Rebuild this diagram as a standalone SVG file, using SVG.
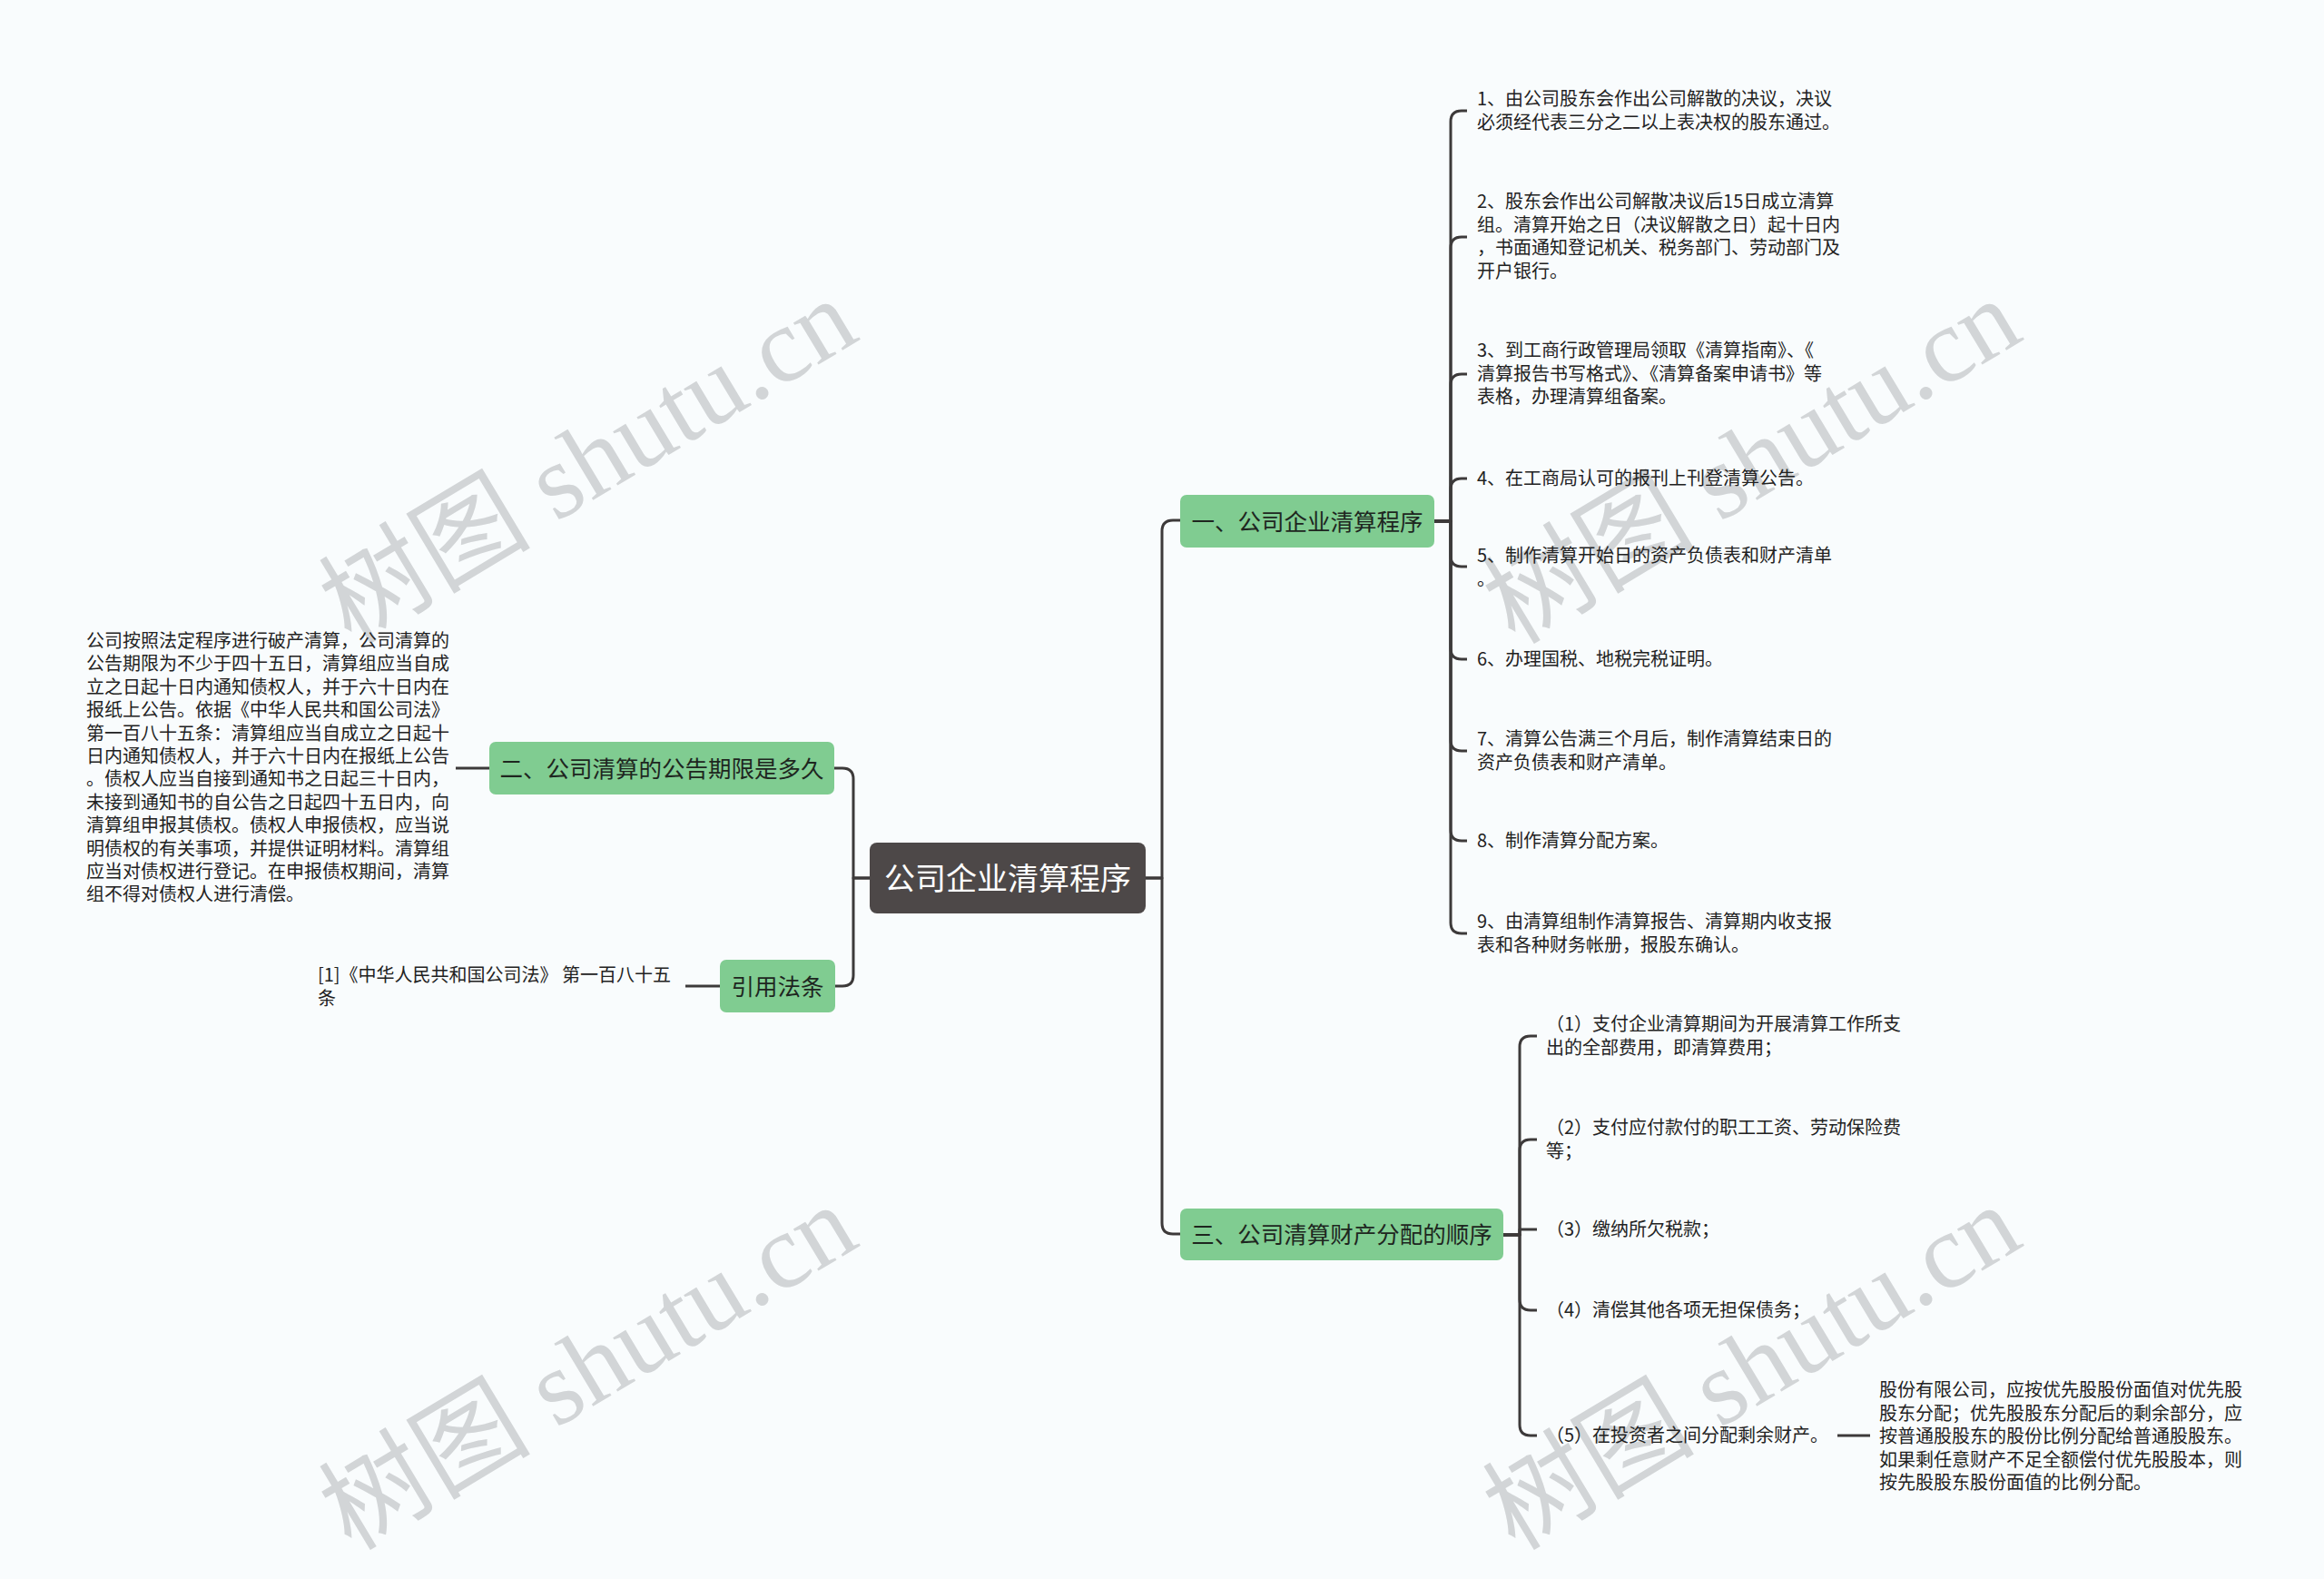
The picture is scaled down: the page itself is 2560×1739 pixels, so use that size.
<svg xmlns="http://www.w3.org/2000/svg" width="2560" height="1739" viewBox="0 0 2560 1739">
<style>
.bg{fill:#f9fcfd}
.lk{fill:none;stroke:#3d3a3a;stroke-width:3;stroke-linecap:butt;stroke-linejoin:round}
.root rect{fill:#4d4848}
.root text{fill:#ffffff;font-size:34px;text-anchor:middle}
.main rect{fill:#80cc91}
.main text{fill:#1e261f;font-size:25.5px;text-anchor:middle}
.leaf text{fill:#222222;font-size:20px}
text{font-family:"Noto Sans CJK SC","Noto Sans",sans-serif}
.wm{fill:#d2d5d7;font-size:117px;text-anchor:middle}
.wm .lat{font-family:"Liberation Serif","DejaVu Serif",serif}
</style>
<rect class="bg" x="0" y="0" width="2560" height="1739"/>

<g id="watermarks" class="wm">
  <text transform="translate(668,542) rotate(-31)">树图<tspan class="lat"> shutu.cn</tspan></text>
  <text transform="translate(1950,542) rotate(-31)">树图<tspan class="lat"> shutu.cn</tspan></text>
  <text transform="translate(668,1540) rotate(-31)">树图<tspan class="lat"> shutu.cn</tspan></text>
  <text transform="translate(1950,1540) rotate(-31)">树图<tspan class="lat"> shutu.cn</tspan></text>
</g>

<g id="connectors">
  <path class="lk" d="M1262,967 H1280 V585 Q1280,573 1292,573 H1300"/>
  <path class="lk" d="M1262,967 H1280 V1347 Q1280,1359 1292,1359 H1300"/>
  <path class="lk" d="M958,967 H940 V858 Q940,846 928,846 H919"/>
  <path class="lk" d="M958,967 H940 V1074 Q940,1086 928,1086 H919"/>
  <path class="lk" d="M539,846 H502"/>
  <path class="lk" d="M793,1086 H755"/>
  <path class="lk" d="M1580,574 H1598 V134 Q1598,122 1610,122 H1616"/>
  <path class="lk" d="M1580,574 H1598 V273 Q1598,261 1610,261 H1616"/>
  <path class="lk" d="M1580,574 H1598 V424 Q1598,412 1610,412 H1616"/>
  <path class="lk" d="M1580,574 H1598 V539 Q1598,527 1610,527 H1616"/>
  <path class="lk" d="M1580,574 H1598 V612 Q1598,624 1610,624 H1616"/>
  <path class="lk" d="M1580,574 H1598 V714 Q1598,726 1610,726 H1616"/>
  <path class="lk" d="M1580,574 H1598 V815 Q1598,827 1610,827 H1616"/>
  <path class="lk" d="M1580,574 H1598 V914 Q1598,926 1610,926 H1616"/>
  <path class="lk" d="M1580,574 H1598 V1016 Q1598,1028 1610,1028 H1616"/>
  <path class="lk" d="M1656,1360 H1674 V1153 Q1674,1141 1686,1141 H1693"/>
  <path class="lk" d="M1656,1360 H1674 V1267 Q1674,1255 1686,1255 H1693"/>
  <path class="lk" d="M1656,1360 H1674 V1354 H1693"/>
  <path class="lk" d="M1656,1360 H1674 V1431 Q1674,1443 1686,1443 H1693"/>
  <path class="lk" d="M1656,1360 H1674 V1569 Q1674,1581 1686,1581 H1693"/>
  <path class="lk" d="M2024,1581 H2060"/>
</g>

<g id="root" class="root">
  <rect x="958" y="928" width="304" height="78" rx="8"/>
  <text x="1110" y="980">公司企业清算程序</text>
</g>

<g id="n1" class="main">
  <rect x="1300" y="545" width="280" height="58" rx="7"/>
  <text x="1440" y="584">一、公司企业清算程序</text>
</g>
<g id="n2" class="main">
  <rect x="539" y="817" width="380" height="58" rx="7"/>
  <text x="729" y="856">二、公司清算的公告期限是多久</text>
</g>
<g id="n4" class="main">
  <rect x="793" y="1057" width="127" height="58" rx="7"/>
  <text x="856.5" y="1096">引用法条</text>
</g>
<g id="n3" class="main">
  <rect x="1300" y="1331" width="356" height="57" rx="7"/>
  <text x="1478" y="1369">三、公司清算财产分配的顺序</text>
</g>

<g id="n1-1" class="leaf"><text x="1627" y="116">1、由公司股东会作出公司解散的决议，决议<tspan x="1627" dy="25.5">必须经代表三分之二以上表决权的股东通过。</tspan></text></g>
<g id="n1-2" class="leaf"><text x="1627" y="229">2、股东会作出公司解散决议后15日成立清算<tspan x="1627" dy="25.5">组。清算开始之日（决议解散之日）起十日内</tspan><tspan x="1627" dy="25.5">，书面通知登记机关、税务部门、劳动部门及</tspan><tspan x="1627" dy="25.5">开户银行。</tspan></text></g>
<g id="n1-3" class="leaf"><text x="1627" y="393">3、到工商行政管理局领取《清算指南》、《<tspan x="1627" dy="25.5">清算报告书写格式》、《清算备案申请书》等</tspan><tspan x="1627" dy="25.5">表格，办理清算组备案。</tspan></text></g>
<g id="n1-4" class="leaf"><text x="1627" y="534">4、在工商局认可的报刊上刊登清算公告。</text></g>
<g id="n1-5" class="leaf"><text x="1627" y="619">5、制作清算开始日的资产负债表和财产清单<tspan x="1627" dy="25.5">。</tspan></text></g>
<g id="n1-6" class="leaf"><text x="1627" y="733">6、办理国税、地税完税证明。</text></g>
<g id="n1-7" class="leaf"><text x="1627" y="821">7、清算公告满三个月后，制作清算结束日的<tspan x="1627" dy="25.5">资产负债表和财产清单。</tspan></text></g>
<g id="n1-8" class="leaf"><text x="1627" y="933">8、制作清算分配方案。</text></g>
<g id="n1-9" class="leaf"><text x="1627" y="1022">9、由清算组制作清算报告、清算期内收支报<tspan x="1627" dy="25.5">表和各种财务帐册，报股东确认。</tspan></text></g>

<g id="n2-1" class="leaf"><text x="95" y="713">公司按照法定程序进行破产清算，公司清算的<tspan x="95" dy="25.4">公告期限为不少于四十五日，清算组应当自成</tspan><tspan x="95" dy="25.4">立之日起十日内通知债权人，并于六十日内在</tspan><tspan x="95" dy="25.4">报纸上公告。依据《中华人民共和国公司法》</tspan><tspan x="95" dy="25.4">第一百八十五条：清算组应当自成立之日起十</tspan><tspan x="95" dy="25.4">日内通知债权人，并于六十日内在报纸上公告</tspan><tspan x="95" dy="25.4">。债权人应当自接到通知书之日起三十日内，</tspan><tspan x="95" dy="25.4">未接到通知书的自公告之日起四十五日内，向</tspan><tspan x="95" dy="25.4">清算组申报其债权。债权人申报债权，应当说</tspan><tspan x="95" dy="25.4">明债权的有关事项，并提供证明材料。清算组</tspan><tspan x="95" dy="25.4">应当对债权进行登记。在申报债权期间，清算</tspan><tspan x="95" dy="25.4">组不得对债权人进行清偿。</tspan></text></g>

<g id="n4-1" class="leaf"><text x="350" y="1081">[1]《中华人民共和国公司法》 第一百八十五<tspan x="350" dy="25.5">条</tspan></text></g>

<g id="n3-1" class="leaf"><text x="1703" y="1135">（1）支付企业清算期间为开展清算工作所支<tspan x="1703" dy="25.5">出的全部费用，即清算费用；</tspan></text></g>
<g id="n3-2" class="leaf"><text x="1703" y="1249">（2）支付应付款付的职工工资、劳动保险费<tspan x="1703" dy="25.5">等；</tspan></text></g>
<g id="n3-3" class="leaf"><text x="1703" y="1361">（3）缴纳所欠税款；</text></g>
<g id="n3-4" class="leaf"><text x="1703" y="1450">（4）清偿其他各项无担保债务；</text></g>
<g id="n3-5" class="leaf"><text x="1703" y="1588">（5）在投资者之间分配剩余财产。</text></g>
<g id="n3-5-1" class="leaf"><text x="2070" y="1538">股份有限公司，应按优先股股份面值对优先股<tspan x="2070" dy="25.5">股东分配；优先股股东分配后的剩余部分，应</tspan><tspan x="2070" dy="25.5">按普通股股东的股份比例分配给普通股股东。</tspan><tspan x="2070" dy="25.5">如果剩任意财产不足全额偿付优先股股本，则</tspan><tspan x="2070" dy="25.5">按先股股东股份面值的比例分配。</tspan></text></g>
</svg>
